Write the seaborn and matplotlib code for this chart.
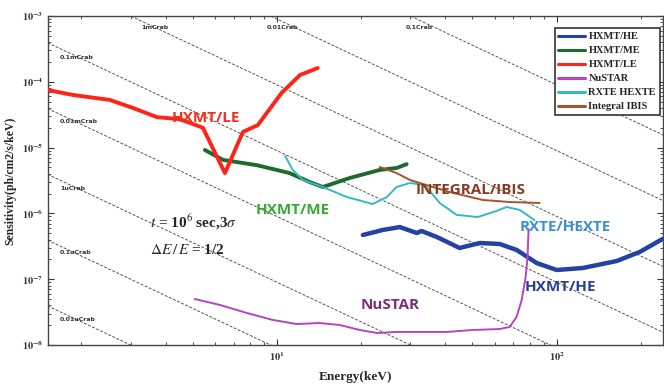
import matplotlib
matplotlib.use("Agg")
import matplotlib.pyplot as plt
import seaborn as sns
import numpy as np
import pandas as pd
from matplotlib.ticker import FixedLocator, FuncFormatter, LogLocator, NullFormatter

# ---- data (energy in keV, sensitivity in ph/cm2/s/keV) ----
le_E = [1.52, 1.87, 2.53, 3.06, 3.73, 4.51, 5.44, 6.52, 7.56, 8.55, 10.4, 12.1, 14.0]
le_F = [7.5e-5, 6.3e-5, 5.3e-5, 4.0e-5, 2.9e-5, 2.7e-5, 2.0e-5, 4.1e-6, 1.73e-5, 2.2e-5,
        6.8e-5, 1.27e-4, 1.62e-4]

me_E = [5.53, 6.42, 8.49, 11.1, 13.1, 14.6, 18.2, 23.3, 26.8, 29.1]
me_F = [9.2e-6, 6.5e-6, 5.4e-6, 4.1e-6, 3.0e-6, 2.52e-6, 3.45e-6, 4.57e-6, 4.9e-6, 5.6e-6]

he_E = [20.3, 23.9, 27.5, 31.6, 32.9, 37.3, 45.0, 53.1, 62.6, 72.0, 84.9, 100, 124, 164, 198, 239]
he_F = [4.7e-7, 5.6e-7, 6.2e-7, 5.04e-7, 5.4e-7, 4.38e-7, 2.98e-7, 3.55e-7, 3.43e-7, 2.78e-7,
        1.76e-7, 1.38e-7, 1.48e-7, 1.89e-7, 2.59e-7, 4.08e-7]

nustar_E = [5.09, 6.26, 7.82, 9.68, 11.8, 14.2, 16.8, 19.8, 22.8, 26.8, 32.4, 40.5, 50.1,
            62.6, 67.9, 71.9, 75.0, 77.5, 78.7, 79.4]
nustar_F = [5.0e-8, 4.06e-8, 3.06e-8, 2.4e-8, 2.08e-8, 2.16e-8, 2.01e-8, 1.69e-8, 1.52e-8,
            1.58e-8, 1.58e-8, 1.58e-8, 1.69e-8, 1.75e-8, 1.88e-8, 2.67e-8, 4.83e-8, 1.08e-7,
            2.17e-7, 5.8e-7]

rxte_E = [10.7, 11.4, 12.4, 14.6, 17.8, 22.0, 24.7, 26.8, 29.9, 33.8, 38.2, 43.9, 52.2,
          61.0, 66.3, 73.8, 83.4]
rxte_F = [7.45e-6, 4.57e-6, 3.22e-6, 2.52e-6, 1.77e-6, 1.39e-6, 1.77e-6, 2.52e-6, 2.9e-6,
          2.7e-6, 1.44e-6, 9.5e-7, 8.8e-7, 1.09e-6, 1.25e-6, 1.13e-6, 7.9e-7]

ibis_E = [23.3, 26.8, 29.9, 32.4, 41.5, 54.4, 67.9, 86.9]
ibis_F = [5.07e-6, 4.1e-6, 3.22e-6, 2.9e-6, 2.11e-6, 1.6e-6, 1.49e-6, 1.44e-6]

# Crab reference lines: fraction of the Crab, spectrum ~ 9 E^-2
crab_frac = [1e-8, 1e-7, 1e-6, 1e-5, 1e-4, 1e-3, 1e-2, 1e-1]
crab_norm = 9.0
crab_index = 2.0

sns.set_style("ticks")
plt.rcParams["font.family"] = ["DejaVu Sans"]
plt.rcParams["mathtext.fontset"] = "stix"

fig = plt.figure(figsize=(6.64, 3.85), dpi=100)
ax = fig.add_axes([48 / 664, 40 / 385, 615 / 664, 329 / 385])
ax.set_xscale("log")
ax.set_yscale("log")

# crab iso-flux lines
e_line = np.array([1.0, 1000.0])
for f in crab_frac:
    ax.plot(e_line, f * crab_norm * e_line ** -crab_index, color="#555555",
            lw=0.7, ls=(0, (3, 1.6)), zorder=1)

crab_labels = [
    ("1mCrab", 3.67, 6.6e-4, "center"),
    ("0.01Crab", 10.5, 6.6e-4, "center"),
    ("0.1Crab", 32.4, 6.6e-4, "center"),
    ("0.1mCrab", 1.68, 2.38e-4, "left"),
    ("0.01mCrab", 1.68, 2.45e-5, "left"),
    ("1uCrab", 1.68, 2.43e-6, "left"),
    ("0.1uCrab", 1.68, 2.59e-7, "left"),
    ("0.01uCrab", 1.68, 2.4e-8, "left"),
]
for txt, x, y, ha in crab_labels:
    ax.text(x, y, txt, fontsize=4.5, ha=ha, va="center", color="#333333",
            fontweight="bold")

series = [
    ("HXMT/HE", he_E, he_F, "#2342a3", 3.2),
    ("HXMT/ME", me_E, me_F, "#1d6a2c", 2.8),
    ("HXMT/LE", le_E, le_F, "#ff2318", 2.8),
    ("NuSTAR", nustar_E, nustar_F, "#b444c0", 1.4),
    ("RXTE HEXTE", rxte_E, rxte_F, "#33b9c4", 1.4),
    ("Integral IBIS", ibis_E, ibis_F, "#a5532c", 1.4),
]
for name, E, F, col, lw in series:
    df = pd.DataFrame({"E": E, "F": F})
    sns.lineplot(data=df, x="E", y="F", ax=ax, color=col, lw=lw, sort=False,
                 estimator=None, label=name, zorder=3)

ax.set_xlim(1.52, 240)
ax.set_ylim(1e-8, 1e-3)

# inline instrument labels
lab_kw = dict(fontsize=11, fontweight="bold", ha="center", va="center",
              family=["Open Sans", "DejaVu Sans"])
ax.text(5.57, 2.8e-5, "HXMT/LE", color="#f0301c", **lab_kw)
ax.text(11.4, 1.13e-6, "HXMT/ME", color="#39a935", **lab_kw)
ax.text(49.3, 2.27e-6, "INTEGRAL/IBIS", color="#8a3a1e", **lab_kw)
ax.text(107.6, 6.2e-7, "RXTE/HEXTE", color="#3c8fd6", **lab_kw)
ax.text(103, 7.6e-8, "HXMT/HE", color="#2b3f94", **lab_kw)
ax.text(25.5, 4.05e-8, "NuSTAR", color="#7b2d7b", **lab_kw)

ser_kw = dict(fontsize=11, fontweight="bold", ha="left", va="center",
              family=["Liberation Serif", "DejaVu Serif"])
ax.text(3.52, 7.4e-7, r"$t$ = 10$^6$ sec,3$\sigma$", **ser_kw)
ax.text(3.52, 2.78e-7, r"$\Delta E\,/\,E$ = 1/2", **ser_kw)

# ticks
ax.tick_params(which="both", direction="in", top=True, right=True, colors="#333333")
ax.tick_params(which="major", length=4, width=0.8)
ax.tick_params(which="minor", length=2, width=0.6)
ax.xaxis.set_major_locator(FixedLocator([10, 100]))
ax.xaxis.set_minor_locator(LogLocator(base=10, subs=np.arange(2, 10)))
ax.xaxis.set_minor_formatter(NullFormatter())
ax.yaxis.set_major_locator(FixedLocator([1e-8, 1e-7, 1e-6, 1e-5, 1e-4, 1e-3]))
ax.yaxis.set_minor_locator(LogLocator(base=10, subs=np.arange(2, 10)))
ax.yaxis.set_minor_formatter(NullFormatter())
fmt = FuncFormatter(lambda v, p: r"$\mathbf{10^{%d}}$" % int(round(np.log10(v))))
ax.xaxis.set_major_formatter(fmt)
ax.yaxis.set_major_formatter(fmt)
for lab in ax.get_xticklabels() + ax.get_yticklabels():
    lab.set_fontsize(7.5)
for s in ax.spines.values():
    s.set_color("#444444")
    s.set_linewidth(1.0)

ax.set_xlabel("Energy(keV)", fontsize=9.5, fontweight="bold",
              family=["Liberation Serif", "DejaVu Serif"], labelpad=6)
ax.set_ylabel("Sensitivity(ph/cm2/s/keV)", fontsize=8.5, fontweight="bold",
              family=["Liberation Serif", "DejaVu Serif"], labelpad=4)

leg = ax.legend(loc="upper right", bbox_to_anchor=(1.003, 0.978), fancybox=False,
                framealpha=1, edgecolor="#333333", handlelength=2.6,
                handletextpad=0.3, labelspacing=0.45, borderpad=0.35,
                prop={"family": ["Liberation Serif", "DejaVu Serif"], "weight": "bold",
                      "size": 7.5})
leg.get_frame().set_linewidth(1.2)
for line in leg.get_lines():
    line.set_linewidth(2.2)

fig.savefig("out.png", dpi=100)
